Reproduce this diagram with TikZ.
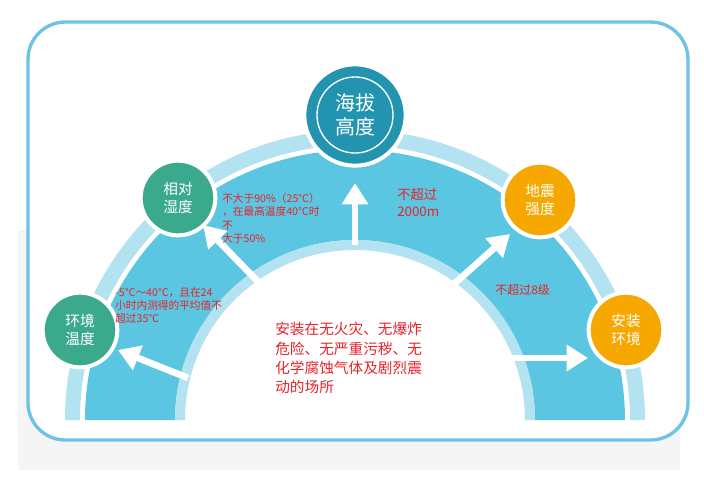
\documentclass[tikz,border=0pt]{standalone}
\usepackage{fontspec}
\setmainfont{Noto Sans CJK SC}
\usetikzlibrary{arrows.meta}
\definecolor{bandblue}{HTML}{5BC6E1}
\definecolor{lightband}{HTML}{B3E3F0}
\definecolor{topteal}{HTML}{2394B0}
\definecolor{green}{HTML}{3BAA8C}
\definecolor{orange}{HTML}{F7A800}
\definecolor{frame}{HTML}{6CC3E6}
\definecolor{redtxt}{HTML}{E8232A}
\tikzset{
  smallbub/.style={circle,draw=white,line width=3pt,minimum size=56pt,text=white,font=\fontsize{11}{13}\selectfont,align=center,inner sep=0pt},
  note/.style={text=redtxt,font=\fontsize{8}{10}\selectfont,align=left,inner sep=0pt,anchor=north west},
  whitearrow/.style={white,line width=5pt,-{Triangle[length=16pt,width=19pt]}}
}
\begin{document}
\begin{tikzpicture}[x=0.75pt,y=-0.75pt]
  \useasboundingbox (0,0) rectangle (704,479);
  \fill[gray!8] (18,230) rectangle (680,470);
  \draw[frame,line width=2.5pt,fill=white,rounded corners=28pt] (28,22) rectangle (688,440);
  % arch bands
  \fill[lightband] (65,420) arc[start angle=180,end angle=360,radius=290] -- (630,420) arc[start angle=360,end angle=180,radius=275] -- cycle;
  \fill[bandblue] (85,420) arc[start angle=180,end angle=360,radius=270] -- (535,420) arc[start angle=360,end angle=180,radius=180] -- cycle;
  \fill[lightband] (175,420) arc[start angle=180,end angle=360,radius=180] -- (525,420) arc[start angle=360,end angle=180,radius=170] -- cycle;
  % arrows
  \draw[whitearrow] (355,245) -- (355,183);
  \draw[whitearrow] (268,292) -- (203,225);
  \draw[whitearrow] (188,378) -- (118,350);
  \draw[whitearrow] (445,292) -- (510,234);
  \draw[whitearrow] (480,358) -- (588,358);
  % bubbles
  \node[circle,fill=topteal,draw=white,line width=3pt,minimum size=76pt] (height) at (355,115) {};
  \draw[white,line width=1pt] (height.center) circle[radius=38];
  \node[text=white,font=\fontsize{15}{18}\selectfont,align=center] at (height.center) {海拔\\高度};
  \node[smallbub,fill=green] (humid) at (178,198) {相对\\湿度};
  \node[smallbub,fill=green] (temp) at (80,330) {环境\\温度};
  \node[smallbub,fill=orange] (quake) at (540,200) {地震\\强度};
  \node[smallbub,fill=orange] (site) at (626,330) {安装\\环境};
  % notes
  \node[note] (humidnote) at (222,193) {不大于90\%（25℃）\\，在最高温度40℃时\\不\\大于50\%};
  \node[note] (tempnote) at (115,287) {-5℃～40℃，且在24\\小时内测得的平均值不\\超过35℃};
  \node[note,font=\fontsize{10}{13}\selectfont] (heightnote) at (397,188) {不超过\\2000m};
  \node[note,font=\fontsize{9}{11}\selectfont] (quakenote) at (495,284) {不超过8级};
  \node[note,font=\fontsize{11}{14.5}\selectfont] (sitenote) at (275,322) {安装在无火灾、无爆炸\\危险、无严重污秽、无\\化学腐蚀气体及剧烈震\\动的场所};
\end{tikzpicture}
\end{document}
